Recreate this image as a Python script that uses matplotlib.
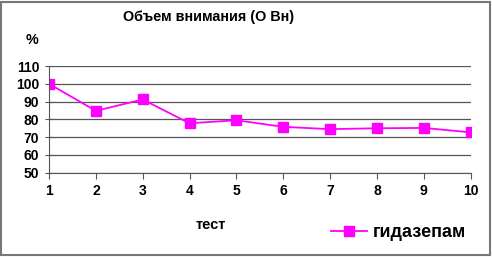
import matplotlib.pyplot as plt
from matplotlib.patches import Rectangle

# данные
testy = [1, 2, 3, 4, 5, 6, 7, 8, 9, 10]
gidazepam = [100, 84.8, 91.2, 77.8, 79.5, 75.8, 74.5, 75.0, 75.2, 72.7]
yticks = [50, 60, 70, 80, 90, 100, 110]

plt.rcParams['font.family'] = ['Liberation Sans', 'DejaVu Sans']
plt.rcParams['font.weight'] = 'bold'

fig = plt.figure(figsize=(4.92, 2.57), dpi=100)
ax = fig.add_axes([0.0996, 0.328, 0.857, 0.415])

ax.plot(testy, gidazepam, color='#FF00FF', lw=1.3, marker='s', ms=6.5,
        label='гидазепам')

ax.set_xlim(1, 10)
ax.set_ylim(50, 110)
ax.set_xticks(testy)
ax.set_yticks(yticks)
ax.yaxis.grid(True, color='#555555', lw=0.9)
ax.set_axisbelow(True)
for s in ['top', 'right']:
    ax.spines[s].set_visible(False)
ax.spines['left'].set_color('#555555')
ax.spines['bottom'].set_color('#555555')
ax.tick_params(labelsize=10, color='#555555')
ax.tick_params(axis='x', length=4, pad=4)
ax.tick_params(axis='y', direction='inout', length=6, pad=4)
for lbl in ax.get_xticklabels() + ax.get_yticklabels():
    lbl.set_fontweight('bold')

fig.text(0.423, 0.932, 'Объем внимания (О Вн)', ha='center', va='center',
         fontsize=10.4, fontweight='bold')
fig.text(0.065, 0.845, '%', ha='center', va='center', fontsize=10.4, fontweight='bold')
fig.text(0.429, 0.125, 'тест', ha='center', va='center', fontsize=10.5, fontweight='bold')

leg = fig.legend(loc='center', bbox_to_anchor=(0.81, 0.095), frameon=False,
                 prop={'size': 13, 'weight': 'bold'}, handlelength=2.0,
                 handletextpad=0.35)

fig.add_artist(Rectangle((0.003, 0.006), 0.993, 0.988, transform=fig.transFigure,
                         fill=False, ec='#777777', lw=1.5))

fig.savefig('out.png', dpi=100)
